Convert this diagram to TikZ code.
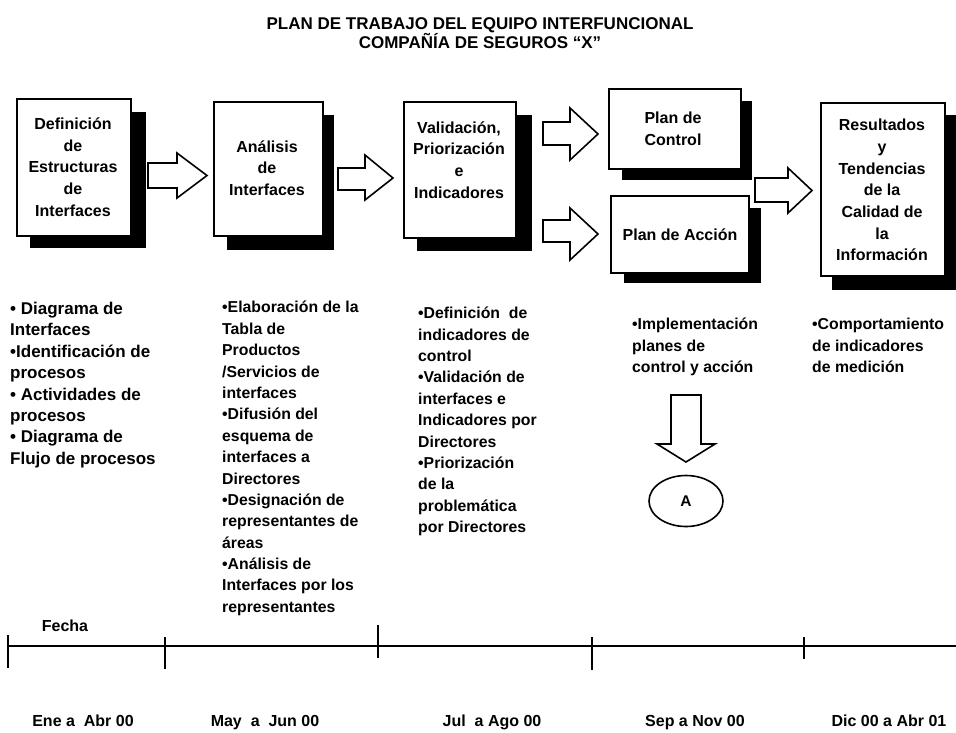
\documentclass[tikz,border=0pt]{standalone}
\usepackage{fontspec}
\setmainfont{Liberation Sans}
\usetikzlibrary{shapes.geometric}
\begin{document}
\begin{tikzpicture}[x=1pt,y=-1pt,
  box/.style={draw=black,line width=1.8pt,fill=white,anchor=north west,inner sep=0pt},
  shade/.style={fill=black},
  boxtext/.style={font=\bfseries\fontsize{16}{21.7}\selectfont,align=center,inner sep=0pt},
  coltext/.style={font=\bfseries\fontsize{15.8}{21.4}\selectfont,align=left,anchor=north west,inner sep=0pt},
  bigcoltext/.style={coltext,font=\bfseries\fontsize{17}{21.4}\selectfont},
  titletext/.style={font=\bfseries\fontsize{17}{17}\selectfont,align=center,inner sep=0pt},
  datetext/.style={font=\bfseries\fontsize{16}{18}\selectfont,inner sep=0pt,anchor=base},
  blockarrow/.style={draw=black,line width=1.6pt,fill=white,line join=miter},
  timeline/.style={line width=1.8pt},
  tick/.style={line width=1.6pt}
]
\useasboundingbox[fill=white] (0,0) rectangle (956,732);

% title
\node[titletext] (title) at (480,33) {PLAN DE TRABAJO DEL EQUIPO INTERFUNCIONAL\\COMPAÑÍA DE SEGUROS “X”};

% shadows
\fill[shade] (30,112) rectangle (146,248);
\fill[shade] (227,115) rectangle (334,250);
\fill[shade] (417,115) rectangle (532,251);
\fill[shade] (622,101) rectangle (752,180);
\fill[shade] (624,208) rectangle (761,283);
\fill[shade] (832,115) rectangle (956,290);

% boxes
\node[box,minimum width=114pt,minimum height=137pt] (b1) at (16,98) {};
\node[box,minimum width=109pt,minimum height=134pt] (b2) at (213,101) {};
\node[box,minimum width=112pt,minimum height=136pt] (b3) at (403,101) {};
\node[box,minimum width=132pt,minimum height=80pt] (b4) at (608,88) {};
\node[box,minimum width=138pt,minimum height=77pt] (b5) at (610,195) {};
\node[box,minimum width=124pt,minimum height=173pt] (b6) at (820,102) {};

\node[boxtext] (b1t) at (73,167) {Definición\\de\\Estructuras\\de\\Interfaces};
\node[boxtext] (b2t) at (267,168) {Análisis\\de\\Interfaces};
\node[boxtext] (b3t) at (459,160) {Validación,\\Priorización\\e\\Indicadores};
\node[boxtext] (b4t) at (673,129) {Plan de\\Control};
\node[boxtext] (b5t) at (680,235) {Plan de Acción};
\node[boxtext] (b6t) at (882,190) {Resultados\\y\\Tendencias\\de la\\Calidad de\\la\\Información};

% block arrows
\draw[blockarrow] (148,163) -- (177,163) -- (177,153) -- (207,175.5) -- (177,198) -- (177,188) -- (148,188) -- cycle;
\draw[blockarrow] (338,168) -- (365,168) -- (365,155) -- (393,178) -- (365,200) -- (365,190) -- (338,190) -- cycle;
\draw[blockarrow] (543,122) -- (570,122) -- (570,108) -- (598,134) -- (570,160) -- (570,145) -- (543,145) -- cycle;
\draw[blockarrow] (543,220) -- (570,220) -- (570,208) -- (598,234) -- (570,260) -- (570,242) -- (543,242) -- cycle;
\draw[blockarrow] (755,178) -- (788,178) -- (788,168) -- (812,190.5) -- (788,213) -- (788,202) -- (755,202) -- cycle;

% column texts
\node[bigcoltext] (c1) at (10,302) {• Diagrama de\\Interfaces\\•Identificación de\\procesos\\• Actividades de\\procesos\\• Diagrama de\\Flujo de procesos};
\node[coltext] (c2) at (222,301) {•Elaboración de la\\Tabla de\\Productos\\/Servicios de\\interfaces\\•Difusión del\\esquema de\\interfaces a\\Directores\\•Designación de\\representantes de\\áreas\\•Análisis de\\Interfaces por los\\representantes};
\node[coltext] (c3) at (418,307) {•Definición\ \ de\\indicadores de\\control\\•Validación de\\interfaces e\\Indicadores por\\Directores\\•Priorización\\de la\\problemática\\por Directores};
\node[coltext] (c4) at (632,318) {•Implementación\\planes de\\control y acción};
\node[coltext] (c5) at (812,318) {•Comportamiento\\de indicadores\\de medición};

% down arrow and circle A
\draw[blockarrow] (671,395) -- (701,395) -- (701,444) -- (715,444) -- (686,462) -- (657,444) -- (671,444) -- cycle;
\node[draw=black,line width=1.6pt,ellipse,minimum width=74pt,minimum height=51pt,inner sep=0pt,
  font=\bfseries\fontsize{15.5}{17}\selectfont] (A) at (686,501) {A};

% timeline
\coordinate (t0) at (8,646);
\coordinate (t1) at (165,646);
\coordinate (t2) at (378,646);
\coordinate (t3) at (592,646);
\coordinate (t4) at (804,646);
\coordinate (tend) at (956,646);
\draw[timeline] (t0) -- (tend);
\draw[tick] ([yshift=11pt]t0) -- ([yshift=-22pt]t0);
\draw[tick] ([yshift=9pt]t1) -- ([yshift=-23pt]t1);
\draw[tick] ([yshift=21pt]t2) -- ([yshift=-12pt]t2);
\draw[tick] ([yshift=9pt]t3) -- ([yshift=-24pt]t3);
\draw[tick] ([yshift=9pt]t4) -- ([yshift=-13pt]t4);

\node[datetext] (fecha) at (65,631) {Fecha};
\node[datetext] (d1) at (83,726) {Ene a\ \ Abr 00};
\node[datetext] (d2) at (265,726) {May\ \ a\ \ Jun 00};
\node[datetext] (d3) at (492,726) {Jul\ \ a Ago 00};
\node[datetext] (d4) at (695,726) {Sep a Nov 00};
\node[datetext] (d5) at (889,726) {Dic 00 a Abr 01};
\end{tikzpicture}
\end{document}
